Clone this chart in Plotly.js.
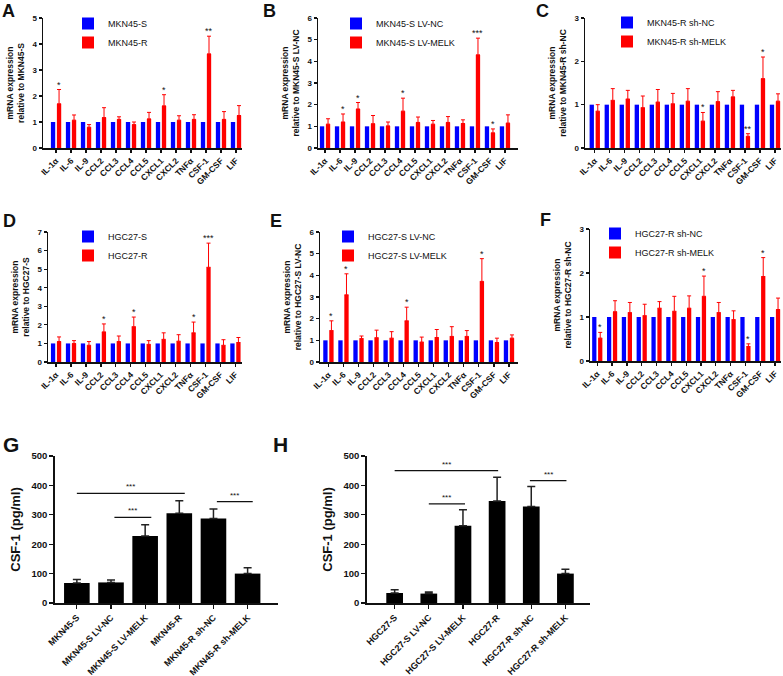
<!DOCTYPE html>
<html>
<head>
<meta charset="utf-8">
<script src="https://cdn.plot.ly/plotly-3.0.1.min.js"></script>
<style>html,body{margin:0;padding:0;background:#fff;}</style>
</head>
<body>
<div id="fig" style="width:783px;height:676px;"></div>
<script>
// cytokine panels A-F (fold change vs control, control = 1)
var cytokines = ['IL-1α', 'IL-6', 'IL-9', 'CCL2', 'CCL3', 'CCL4', 'CCL5', 'CXCL1', 'CXCL2', 'TNFα', 'CSF-1', 'GM-CSF', 'LIF'];
var baseline = [1, 1, 1, 1, 1, 1, 1, 1, 1, 1, 1, 1, 1];

var mknR = [1.70, 1.07, 0.80, 1.17, 1.10, 0.90, 1.12, 1.62, 1.07, 1.10, 3.62, 1.10, 1.25];
var mknRErr = [0.55, 0.20, 0.10, 0.38, 0.10, 0.10, 0.25, 0.43, 0.17, 0.18, 0.68, 0.30, 0.38];
var mknRStars = ['*', '', '', '', '', '', '', '*', '', '', '**', '', ''];

var mknMelk = [1.10, 1.20, 1.80, 1.12, 1.02, 1.70, 1.18, 1.10, 1.18, 1.13, 4.30, 0.70, 1.15];
var mknMelkErr = [0.25, 0.37, 0.30, 0.38, 0.18, 0.60, 0.25, 0.17, 0.27, 0.17, 0.77, 0.18, 0.38];
var mknMelkStars = ['', '*', '*', '', '', '*', '', '', '', '', '***', '*', ''];

var mknSh = [0.85, 1.10, 1.13, 0.93, 1.06, 1.02, 1.08, 0.62, 1.07, 1.18, 0.27, 1.60, 1.08];
var mknShErr = [0.15, 0.27, 0.20, 0.27, 0.29, 0.24, 0.29, 0.20, 0.23, 0.15, 0.06, 0.50, 0.17];
var mknShStars = ['', '', '', '', '', '', '', '*', '', '', '**', '*', ''];

var hgcR = [1.10, 1.00, 0.90, 1.62, 1.10, 1.90, 0.95, 1.22, 1.12, 1.57, 5.10, 0.90, 1.05];
var hgcRErr = [0.25, 0.15, 0.20, 0.43, 0.30, 0.52, 0.20, 0.35, 0.35, 0.58, 1.30, 0.30, 0.27];
var hgcRStars = ['', '', '', '*', '', '*', '', '', '', '*', '***', '', ''];

var hgcMelk = [1.45, 3.10, 1.08, 1.12, 1.10, 1.90, 0.92, 1.13, 1.18, 1.18, 3.72, 0.90, 1.10];
var hgcMelkErr = [0.45, 0.97, 0.12, 0.35, 0.30, 0.63, 0.23, 0.37, 0.45, 0.27, 1.05, 0.20, 0.15];
var hgcMelkStars = ['*', '*', '', '', '', '*', '', '', '', '', '*', '', ''];

var hgcSh = [0.52, 1.12, 1.10, 1.03, 1.20, 1.13, 1.20, 1.47, 1.10, 0.94, 0.33, 1.92, 1.17];
var hgcShErr = [0.13, 0.25, 0.23, 0.26, 0.15, 0.34, 0.28, 0.46, 0.23, 0.20, 0.06, 0.43, 0.26];
var hgcShStars = ['*', '', '', '', '', '', '', '*', '', '', '*', '*', ''];

// CSF-1 ELISA panels G, H
var mknGroups = ['MKN45-S', 'MKN45-S LV-NC', 'MKN45-S LV-MELK', 'MKN45-R', 'MKN45-R sh-NC', 'MKN45-R sh-MELK'];
var mknCsf1 = [68, 70, 228, 305, 287, 100];
var mknCsf1Err = [12, 8, 38, 43, 33, 20];
var mknCompFrom = [0, 1.1, 4.1];
var mknCompTo = [3.16, 2.18, 5.15];
var mknCompY = [373, 291, 345];

var hgcGroups = ['HGC27-S', 'HGC27-S LV-NC', 'HGC27-S LV-MELK', 'HGC27-R', 'HGC27-R sh-NC', 'HGC27-R sh-MELK'];
var hgcCsf1 = [34, 32, 263, 347, 328, 100];
var hgcCsf1Err = [11, 5, 54, 81, 68, 15];
var hgcCompFrom = [0, 1.0, 3.96];
var hgcCompTo = [3.03, 2.06, 5.03];
var hgcCompY = [450, 337, 416];

var W = 783, H = 676;
function px(x) { return x / W; }
function py(y) { return 1 - y / H; }

var FONT = 'Arial, "Liberation Sans", sans-serif';
var BLUE = '#0000ff', RED = '#ff0000';

var panels = [
    {ctrl: baseline, treat: mknR, err: mknRErr, stars: mknRStars, names: ['MKN45-S', 'MKN45-R'], ref: 'MKN45-S', ymax: 5,
     box: [43, 242, 18, 148], xr: [-0.87, 12.4], leg: [68, 9], letter: ['A', 8, 11]},
    {ctrl: baseline, treat: mknMelk, err: mknMelkErr, stars: mknMelkStars, names: ['MKN45-S LV-NC', 'MKN45-S LV-MELK'], ref: 'MKN45-S LV-NC', ymax: 6,
     box: [318, 518, 18, 148], xr: [-0.47, 12.87], leg: [336, 9], letter: ['B', 269, 11]},
    {ctrl: baseline, treat: mknSh, err: mknShErr, stars: mknShStars, names: ['MKN45-R sh-NC', 'MKN45-R sh-MELK'], ref: 'MKN45-R sh-NC', ymax: 3,
     box: [585, 781, 18, 148], xr: [-0.65, 12.4], leg: [607, 8], letter: ['C', 542, 11]},
    {ctrl: baseline, treat: hgcR, err: hgcRErr, stars: hgcRStars, names: ['HGC27-S', 'HGC27-R'], ref: 'HGC27-S', ymax: 7,
     box: [48, 242, 232, 362], xr: [-0.54, 12.44], leg: [68, 222], letter: ['D', 9, 221]},
    {ctrl: baseline, treat: hgcMelk, err: hgcMelkErr, stars: hgcMelkStars, names: ['HGC27-S LV-NC', 'HGC27-S LV-MELK'], ref: 'HGC27-S LV-NC', ymax: 6,
     box: [320, 518, 232, 362], xr: [-0.56, 12.6], leg: [328, 222], letter: ['E', 276, 221]},
    {ctrl: baseline, treat: hgcSh, err: hgcShErr, stars: hgcShStars, names: ['HGC27-R sh-NC', 'HGC27-R sh-MELK'], ref: 'HGC27-R sh-NC', ymax: 3,
     box: [590, 781, 229, 361], xr: [-0.49, 12.4], leg: [595, 219], letter: ['F', 545, 220]}
];

var data = [];
var layout = {
    width: W, height: H,
    margin: {l: 0, r: 0, t: 0, b: 0},
    paper_bgcolor: '#fff', plot_bgcolor: '#fff',
    font: {family: FONT, color: '#111'},
    barmode: 'group',
    bargap: 0.2,
    bargroupgap: 0.28,
    annotations: [],
    shapes: []
};

function axisStyle(extra) {
    var a = {
        showline: true, linecolor: '#111', linewidth: 1.5,
        ticks: 'outside', ticklen: 3, tickwidth: 1.2, tickcolor: '#111',
        showgrid: false, zeroline: false, fixedrange: true
    };
    for (var k in extra) a[k] = extra[k];
    return a;
}

panels.forEach(function (p, i) {
    var n = i + 1;
    var sfx = n > 1 ? String(n) : '';
    var legKey = 'legend' + sfx;
    data.push({
        type: 'bar', x: cytokines, y: p.ctrl, name: p.names[0],
        marker: {color: BLUE}, xaxis: 'x' + sfx, yaxis: 'y' + sfx, legend: legKey
    });
    data.push({
        type: 'bar', x: cytokines, y: p.treat, name: p.names[1],
        marker: {color: RED}, xaxis: 'x' + sfx, yaxis: 'y' + sfx, legend: legKey,
        error_y: {type: 'data', array: p.err, symmetric: false, color: RED, thickness: 1, width: 2}
    });
    layout['xaxis' + sfx] = axisStyle({
        domain: [px(p.box[0]), px(p.box[1])], anchor: 'y' + sfx,
        type: 'category', range: p.xr, tickangle: -45,
        tickfont: {size: 8.5, weight: 'bold', family: FONT}
    });
    layout['yaxis' + sfx] = axisStyle({
        domain: [py(p.box[3]), py(p.box[2])], anchor: 'x' + sfx,
        range: [0, p.ymax], dtick: 1,
        tickfont: {size: 8, weight: 'bold', family: FONT},
        title: {text: 'mRNA expression<br>relative to ' + p.ref, font: {size: 8.5, weight: 'bold'}, standoff: 6}
    });
    layout[legKey] = {
        x: px(p.leg[0]), y: py(p.leg[1]), xanchor: 'left', yanchor: 'top',
        bgcolor: 'rgba(0,0,0,0)', font: {size: 9, family: FONT}, itemwidth: 30
    };
    p.stars.forEach(function (s, j) {
        if (!s) return;
        layout.annotations.push({
            xref: 'x' + sfx, yref: 'y' + sfx, x: j, y: p.treat[j] + p.err[j],
            text: s, showarrow: false, xshift: 3, yanchor: 'bottom', yshift: -2,
            font: {size: 9, color: '#111'}
        });
    });
    layout.annotations.push({
        xref: 'paper', yref: 'paper', x: px(p.letter[1]), y: py(p.letter[2]),
        xanchor: 'center', yanchor: 'middle', showarrow: false,
        text: '<b>' + p.letter[0] + '</b>', font: {size: 18, color: '#111'}
    });
});

var elisa = [
    {groups: mknGroups, vals: mknCsf1, err: mknCsf1Err, from: mknCompFrom, to: mknCompTo, cy: mknCompY,
     box: [55, 278, 456, 603], xr: [-0.64, 5.89], width: 0.75, letter: ['G', 11, 444]},
    {groups: hgcGroups, vals: hgcCsf1, err: hgcCsf1Err, from: hgcCompFrom, to: hgcCompTo, cy: hgcCompY,
     box: [367, 590, 456, 603], xr: [-0.81, 5.72], width: 0.49, letter: ['H', 280, 444]}
];

elisa.forEach(function (p, i) {
    var sfx = String(7 + i);
    data.push({
        type: 'bar', x: p.groups, y: p.vals, width: p.width, showlegend: false,
        marker: {color: '#000'}, xaxis: 'x' + sfx, yaxis: 'y' + sfx,
        error_y: {type: 'data', array: p.err, symmetric: false, color: '#222', thickness: 1.5, width: 4}
    });
    layout['xaxis' + sfx] = axisStyle({
        domain: [px(p.box[0]), px(p.box[1])], anchor: 'y' + sfx,
        type: 'category', range: p.xr, tickangle: -45, linewidth: 1.8, ticklen: 4,
        tickfont: {size: 9, weight: 'bold', family: FONT}
    });
    layout['yaxis' + sfx] = axisStyle({
        domain: [py(p.box[3]), py(p.box[2])], anchor: 'x' + sfx,
        range: [0, 500], dtick: 100, linewidth: 1.8, ticklen: 4,
        tickfont: {size: 9.5, weight: 'bold', family: FONT},
        title: {text: 'CSF-1 (pg/ml)', font: {size: 13, weight: 'bold'}, standoff: 8}
    });
    p.from.forEach(function (x0, j) {
        layout.shapes.push({
            type: 'line', xref: 'x' + sfx, yref: 'y' + sfx,
            x0: x0, x1: p.to[j], y0: p.cy[j], y1: p.cy[j],
            line: {color: '#111', width: 1.2}
        });
        layout.annotations.push({
            xref: 'x' + sfx, yref: 'y' + sfx, x: (x0 + p.to[j]) / 2, y: p.cy[j],
            text: '***', showarrow: false, yanchor: 'bottom', yshift: 0,
            font: {size: 8, color: '#111'}
        });
    });
    layout.annotations.push({
        xref: 'paper', yref: 'paper', x: px(p.letter[1]), y: py(p.letter[2]),
        xanchor: 'center', yanchor: 'middle', showarrow: false,
        text: '<b>' + p.letter[0] + '</b>', font: {size: 21, color: '#111'}
    });
});

Plotly.newPlot('fig', data, layout, {displayModeBar: false, staticPlot: true});
</script>
</body>
</html>
